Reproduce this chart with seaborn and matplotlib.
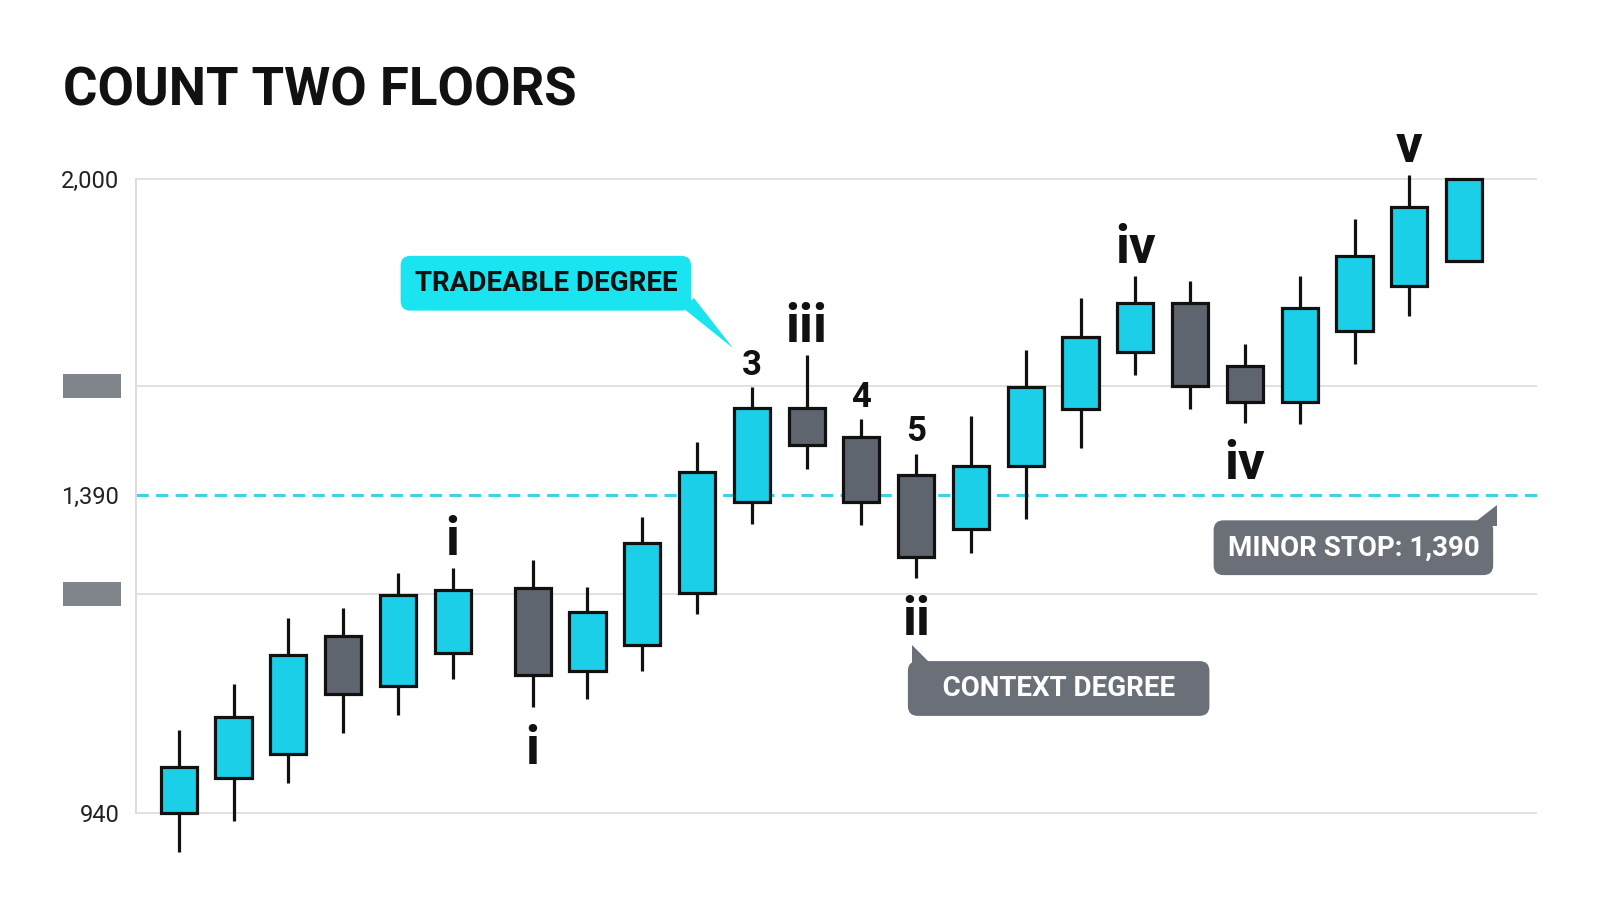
import numpy as np
import pandas as pd
import seaborn as sns
import matplotlib.pyplot as plt
import matplotlib.transforms as mtransforms
from matplotlib.patches import Rectangle, Polygon

# candles
open_ = [940, 989, 1023, 1190, 1120, 1166, 1258, 1141, 1178, 1251, 1379, 1557,
         1502, 1428, 1341, 1445, 1555, 1666, 1760, 1639, 1568, 1706, 1793, 1840]
close = [1005, 1075, 1164, 1108, 1248, 1255, 1135, 1224, 1322, 1434, 1557, 1486,
         1380, 1302, 1445, 1598, 1695, 1760, 1600, 1568, 1751, 1851, 1946, 2000]
high = [1058, 1123, 1215, 1230, 1279, 1287, 1297, 1260, 1359, 1492, 1597, 1660,
        1536, 1469, 1541, 1669, 1770, 1812, 1803, 1680, 1811, 1921, 2007, 2000]
low = [885, 928, 983, 1053, 1078, 1129, 1090, 1101, 1141, 1222, 1348, 1440,
       1347, 1272, 1308, 1356, 1480, 1621, 1555, 1529, 1526, 1642, 1735, 1840]

# wave labels: bar index, text, side
wave_bar = [5, 6, 10, 11, 12, 13, 13, 17, 19, 22]
wave_text = ["i", "i", "3", "iii", "4", "5", "ii", "iv", "iv", "v"]
wave_side = ["above", "below", "above", "above", "above", "above", "below", "above", "below", "above"]

tick_vals = [940, 1390, 2000]
tick_text = ["940", "1,390", "2,000"]
hidden_vals = [1250, 1600]
stop_level = 1390

CYAN = "#1ccfe8"
GRAY = "#5f656e"
INK = "#111111"
TAG_CYAN = "#19e4ef"
TAG_GRAY = "#6a6f78"

df = pd.DataFrame({"open": open_, "close": close, "high": high, "low": low})
n = len(df)
df["x"] = np.arange(n) + np.where(np.arange(n) >= 6, 0.46, 0.0)  # small gap after 6th bar
df["up"] = df["close"] >= df["open"]

sns.set_theme(style="white")
plt.rcParams["font.family"] = ["Roboto", "DejaVu Sans"]


# the axis is stretched differently below and above the stop level
def fwd(v):
    v = np.asarray(v, dtype=float)
    return np.where(v < 1390, (v - 1390) / 1.4138, (v - 1390) / 1.9298)


def inv(u):
    u = np.asarray(u, dtype=float)
    return np.where(u < 0, 1390 + u * 1.4138, 1390 + u * 1.9298)


fig = plt.figure(figsize=(16, 9.14), dpi=100)
ax = fig.add_axes([0.085, 0.0486, 0.8756, 0.7674])
ax.set_yscale("function", functions=(fwd, inv))
ax.set_xlim(-0.78, 24.79)
ax.set_ylim(860, 2020)

# grid
for lvl in [940, 1250, 1600, 2000]:
    ax.axhline(lvl, color="#e1e1e1", lw=1.4, zorder=0)
ax.axhline(stop_level, color="#3fd3df", lw=2.2, ls=(0, (4, 2.4)), zorder=1)

# candles
ax.vlines(df["x"], df["low"], df["high"], colors=INK, lw=2.3, zorder=2)
body_lo = df[["open", "close"]].min(axis=1)
body_h = (df["close"] - df["open"]).abs()
ax.bar(df["x"], body_h, bottom=body_lo, width=0.66,
       color=[CYAN if u else GRAY for u in df["up"]],
       edgecolor=INK, linewidth=2.3, zorder=3)

# wave labels
for i, t, side in zip(wave_bar, wave_text, wave_side):
    size = 25 if t.isdigit() else 38
    if side == "above":
        ax.annotate(t, (df["x"][i], df["high"][i]), xytext=(0, 9), textcoords="offset points",
                    ha="center", va="baseline", fontsize=size, fontweight="bold",
                    color=INK, annotation_clip=False)
    else:
        ax.annotate(t, (df["x"][i], df["low"][i]), xytext=(0, -12), textcoords="offset points",
                    ha="center", va="top", fontsize=size, fontweight="bold",
                    color=INK, annotation_clip=False)


# callouts: rounded tag plus a small triangular tail ending at the tip
def callout(text, box_at, tip_at, tail, fc, tc):
    ax.text(*box_at, text, ha="center", va="center", fontsize=20, fontweight="bold", color=tc,
            bbox=dict(boxstyle="round,pad=0.5,rounding_size=0.35", fc=fc, ec="none"), zorder=5)
    tr = fig.dpi_scale_trans + mtransforms.ScaledTranslation(*tip_at, ax.transData)
    ax.add_patch(Polygon([(0, 0)] + tail, closed=True, fc=fc, ec="none",
                         transform=tr, zorder=5, clip_on=False))


callout("TRADEABLE DEGREE", (6.70, 1798), (10.115, 1673),
        [(-0.50, 0.40), (-0.39, 0.50)], TAG_CYAN, INK)
callout("   CONTEXT DEGREE   ", (16.06, 1116), (13.376, 1177),
        [(0, -0.21), (0.21, -0.21)], TAG_GRAY, "white")
callout("MINOR STOP: 1,390", (21.44, 1315), (24.06, 1375),
        [(0, -0.21), (-0.27, -0.21)], TAG_GRAY, "white")

# axis
ax.set_yticks(tick_vals)
ax.set_yticklabels(tick_text)
ax.set_xticks([])
ax.yaxis.set_minor_locator(plt.NullLocator())
ax.tick_params(axis="y", length=0, pad=12, labelsize=17, labelcolor="#222222")
sns.despine(ax=ax, top=True, right=True, bottom=True)
ax.spines["left"].set_color("#dddddd")
ax.spines["left"].set_linewidth(1.4)
ax.spines["left"].set_bounds(940, 2000)

# grey placeholders instead of the two middle tick labels
to_fig = fig.transFigure.inverted()
for lvl in hidden_vals:
    _, yp = ax.transData.transform((0, lvl))
    x0, y0 = to_fig.transform((63, yp - 12))
    x1, y1 = to_fig.transform((121, yp + 12))
    fig.add_artist(Rectangle((x0, y0), x1 - x0, y1 - y0, fc="#80858c", ec="none"))

fig.text(63 / 1600, 1 - 105 / 914, "COUNT TWO FLOORS", fontsize=38,
         fontweight="bold", color=INK, va="baseline", ha="left")

fig.savefig("out.png", dpi=100, facecolor="white")
